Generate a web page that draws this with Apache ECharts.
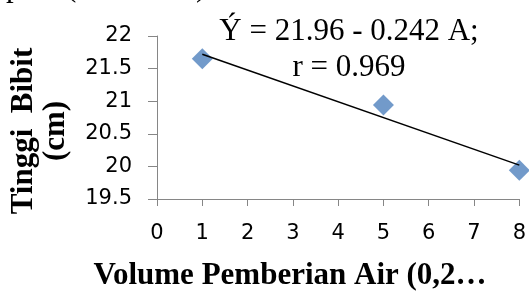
<!DOCTYPE html>
<html>
<head>
<meta charset="utf-8">
<script src="https://cdn.jsdelivr.net/npm/echarts@6/dist/echarts.min.js"></script>
<style>
  html, body { margin: 0; padding: 0; background: #fff; }
  #chart { width: 529px; height: 291px; }
</style>
</head>
<body>
<div id="chart"></div>
<script>
// observed points
var volume = [1, 5, 8];
var tinggi = [21.65, 20.94, 19.94];
// regression line ends
var trendX = [1, 8];
var trendY = [21.72, 20.02];

var xTicks = [0, 1, 2, 3, 4, 5, 6, 7, 8];
var yTicks = [19.5, 20, 20.5, 21, 21.5, 22];

var eqLine1 = 'Ý = 21.96 - 0.242 A;';
var eqLine2 = 'r = 0.969';

var axisGray = '#868686';
var serif = '"Liberation Serif", "Times New Roman", serif';
var sans = '"DejaVu Sans", sans-serif';

var chart = echarts.init(document.getElementById('chart'));

var option = {
    animation: false,
    backgroundColor: '#fff',
    grid: {
        left: 157,
        right: 7,
        top: 36,
        bottom: 92,
        containLabel: false
    },
    xAxis: {
        type: 'value',
        min: xTicks[0],
        max: xTicks[xTicks.length - 1],
        interval: 1,
        splitLine: { show: false },
        axisLine: { lineStyle: { color: axisGray, width: 1 } },
        axisTick: { show: true, length: 7, lineStyle: { color: axisGray } },
        axisLabel: {
            margin: 24,
            fontFamily: sans,
            fontSize: 21,
            color: '#000'
        }
    },
    yAxis: {
        type: 'value',
        min: yTicks[0],
        max: yTicks[yTicks.length - 1],
        interval: 0.5,
        splitLine: { show: false },
        axisLine: { show: true, lineStyle: { color: axisGray, width: 1 } },
        axisTick: { show: true, length: 9, lineStyle: { color: axisGray } },
        axisLabel: {
            margin: 25,
            fontFamily: sans,
            fontSize: 21,
            color: '#000'
        }
    },
    series: [
        {
            type: 'line',
            data: trendX.map(function (x, i) { return [x, trendY[i]]; }),
            symbol: 'none',
            lineStyle: { color: '#000', width: 1.5 },
            z: 3
        },
        {
            type: 'scatter',
            data: volume.map(function (x, i) { return [x, tinggi[i]]; }),
            symbol: 'diamond',
            symbolSize: [21, 21],
            itemStyle: { color: '#4F81BD' },
            z: 2
        }
    ],
    graphic: [
        {
            type: 'text',
            x: 349, y: 50,
            style: {
                text: eqLine1 + '\n' + eqLine2,
                align: 'center',
                verticalAlign: 'middle',
                font: '31px ' + serif,
                lineHeight: 36,
                fill: '#000'
            }
        },
        {
            type: 'text',
            x: 40, y: 131,
            rotation: Math.PI / 2,
            style: {
                text: 'Tinggi  Bibit\n(cm)',
                align: 'center',
                verticalAlign: 'middle',
                font: 'bold 31px ' + serif,
                lineHeight: 32,
                fill: '#000'
            }
        },
        {
            type: 'text',
            x: 290, y: 276,
            style: {
                text: 'Volume Pemberian Air (0,2…',
                align: 'center',
                verticalAlign: 'middle',
                font: 'bold 31px ' + serif,
                fill: '#000'
            }
        },
        // bits of the caption line above, cut by the top edge
        {
            type: 'text',
            x: 6, y: 3,
            style: { text: 'p', verticalAlign: 'bottom', font: '31px ' + serif, fill: '#000' }
        },
        {
            type: 'text',
            x: 66, y: 3,
            style: { text: '(', verticalAlign: 'bottom', font: '31px ' + serif, fill: '#000' }
        },
        {
            type: 'text',
            x: 196, y: 3,
            style: { text: ')', verticalAlign: 'bottom', font: '31px ' + serif, fill: '#000' }
        }
    ]
};

chart.setOption(option);
</script>
</body>
</html>
